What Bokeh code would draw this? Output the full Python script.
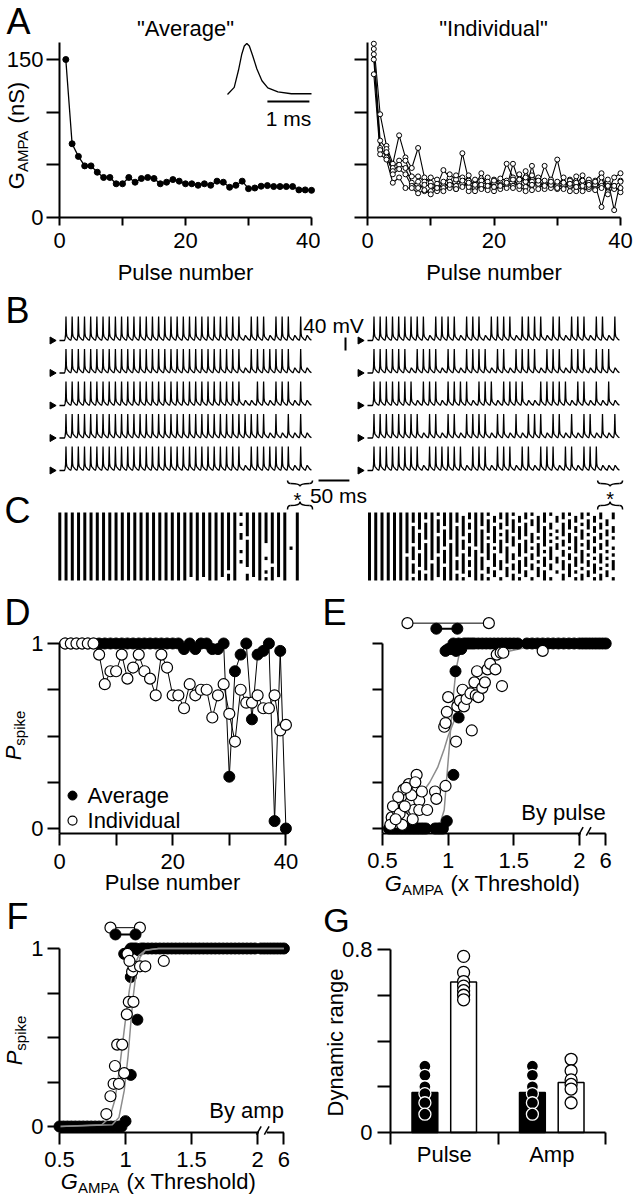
import numpy as np
from bokeh.plotting import figure
from bokeh.layouts import column, row
from bokeh.models import Range1d, FixedTicker, Label
from bokeh.core.properties import value
from bokeh.embed import file_html
from bokeh.resources import INLINE

FONT = "Liberation Sans"

# ---------------- data ----------------
PULSE = list(range(1, 41))

A_AVG = [150, 70, 58, 49, 49, 43, 38, 38, 32, 32,
         38, 33.5, 37, 38, 37, 32, 33.5, 36, 34.5, 32,
         32, 30.6, 32, 30.6, 34.5, 33.5, 28.7, 30.6, 34.5, 27.4,
         28, 29.7, 30.3, 29.4, 29.4, 29.4, 29.4, 26.2, 26.2, 25.8]
A_IND_1 = [165, 98, 68, 51, 78, 57, 47, 66, 38, 33,
           30, 45, 38, 27, 61, 35, 30, 42, 28, 36,
           33, 51, 38, 27, 44, 34, 30, 49, 35, 55,
           29, 36, 31, 40, 27, 35, 42, 24, 38, 42]
A_IND_2 = [160, 73, 65, 47, 54, 54, 39, 39, 34, 38,
           36, 30, 41, 36, 32, 40, 28, 35, 38, 25,
           31, 28, 51, 33, 29, 40, 32, 27, 36, 30,
           38, 25, 33, 29, 36, 31, 10, 33, 30, 24]
A_IND_3 = [155, 66, 57, 44, 50, 47, 33, 28, 31, 30,
           25, 34, 28, 40, 38, 25, 36, 30, 26, 33,
           37, 35, 30, 41, 34, 26, 38, 33, 28, 34,
           31, 35, 25, 30, 33, 27, 30, 36, 7, 35]
A_IND_4 = [150, 64, 62, 41, 46, 41, 30, 34, 25, 25,
           32, 28, 34, 30, 35, 29, 25, 31, 34, 29,
           27, 32, 36, 30, 25, 49, 27, 35, 31, 27,
           33, 30, 39, 25, 29, 34, 28, 30, 27, 28]
A_IND_5 = [136, 60, 55, 33, 38, 28, 28, 23, 26, 22,
           28, 25, 31, 27, 29, 33, 31, 27, 30, 35,
           30, 33, 28, 36, 38, 31, 35, 30, 34, 28,
           27, 32, 29, 35, 31, 26, 38, 22, 30, 34]
A_IND = [A_IND_1, A_IND_2, A_IND_3, A_IND_4, A_IND_5]

INSET_T_MS = [0.0, 0.16, 0.26, 0.34, 0.40, 0.46, 0.52, 0.60, 0.70, 0.82, 0.96, 1.20, 1.52, 2.0]
INSET_G = [0.0, 0.14, 0.47, 0.79, 0.95, 1.0, 0.95, 0.76, 0.50, 0.27, 0.13, 0.05, 0.015, 0.015]

B_AVG_SPIKES = ["1111111111111111111111111111101110111010",
                "1111111111111111111111111111101111111010",
                "1111111111111111111111111111100110111010",
                "1111111111111111111111111111111110101010",
                "1111111111111111111111111111101111111010"]
B_IND_SPIKES = ["1111111110111101110111101111011011101101",
                "1111110111101101111011011110111011101110",
                "1111111011101111011101111001111101101010",
                "1111111101101101111011010111011010110101",
                "1111111101111110111011101101110110111000"]

N_TRIALS = 20
C_AVG_FAILS = [[], [], [], [], [], [], [], [], [], [],
               [], [], [], [], [], [], [], [], [], [],
               [], [19], [], [19], [], [], [19], [17], [],
               [1, 2, 4, 5, 8, 9, 10, 12, 13, 15, 16, 17, 18, 19],
               [7, 16, 17], [19], [], [9, 10, 11, 12, 14, 15, 16, 18], [15], [19], [],
               [0, 1, 2, 3, 4, 5, 6, 7, 8, 9, 11, 12, 13, 14, 15, 16, 17, 18, 19],
               [],
               [0, 1, 2, 3, 4, 5, 6, 7, 8, 9, 10, 11, 12, 13, 14, 15, 16, 17, 18, 19]]
C_IND_FAILS = [[], [], [], [], [], [], [12], [3, 9, 14, 18], [5, 11, 16], [2, 8, 17],
               [14], [1, 6, 12, 19], [4, 10, 15], [8], [3, 13, 17], [0, 7, 11, 18],
               [2, 5, 9, 13, 16, 19], [10], [4, 12, 17], [1, 6, 8, 14, 15, 18],
               [0, 3, 9, 11, 16, 19], [2, 5, 7, 12, 13, 17, 18], [4, 9, 15, 19],
               [1, 6, 10, 11, 14, 17], [0, 3, 8, 13, 18], [2, 7, 12, 16, 19],
               [1, 4, 5, 9, 11, 14, 17, 18], [0, 6, 8, 13, 15, 19], [3, 10, 12, 16],
               [1, 2, 5, 7, 9, 14, 17, 18], [0, 3, 4, 6, 8, 11, 12, 15, 16, 18, 19],
               [2, 7, 10, 13, 17], [1, 5, 9, 11, 14, 19], [0, 3, 6, 12, 16, 18],
               [2, 4, 8, 10, 15, 17], [1, 5, 7, 11, 13, 16, 19], [0, 3, 6, 9, 12, 14, 18],
               [2, 5, 8, 11, 15, 17], [0, 1, 4, 7, 10, 12, 14, 16, 19],
               [2, 3, 6, 8, 9, 11, 13, 17, 18]]

D_AVG = [1, 1, 1, 1, 1, 1, 1, 1, 1, 1,
         1, 1, 1, 1, 1, 1, 1, 1, 1, 1,
         1, 0.97, 1, 0.97, 1, 1, 0.97, 0.97, 1, 0.28,
         0.85, 0.94, 1, 0.59, 0.94, 0.96, 1, 0.04, 0.96, 0.0]
D_IND = [1, 1, 1, 1, 1, 1, 0.94, 0.78, 0.85, 0.85,
         0.94, 0.81, 0.87, 0.94, 0.85, 0.81, 0.72, 0.94, 0.87, 0.72,
         0.72, 0.65, 0.78, 0.72, 0.75, 0.75, 0.60, 0.72, 0.78, 0.62,
         0.47, 0.75, 0.68, 0.68, 0.72, 0.65, 0.65, 0.72, 0.53, 0.56]

E_AVG_G = [0.55, 0.57, 0.59, 0.61, 0.63, 0.65, 0.67, 0.69, 0.71, 0.73,
           0.75, 0.77, 0.79, 0.81, 0.83, 0.90, 0.92, 0.94, 0.96, 0.99,
           1.04, 1.08, 1.056, 0.98, 1.00,
           1.02, 1.04, 1.06, 1.08, 1.10, 1.12, 1.14, 1.16, 1.18, 1.20,
           1.23, 1.26, 1.29, 1.32, 1.35, 1.38, 1.41, 1.44, 1.47, 1.50,
           1.53, 1.60, 1.64, 1.68, 1.72, 1.76, 1.80, 1.84, 1.88, 1.92,
           1.96, 2.0, 2.5, 3.0, 3.5, 4.0, 4.5, 5.0, 5.5, 6.0]
E_AVG_P = [0, 0, 0, 0, 0, 0, 0, 0, 0, 0,
           0, 0, 0, 0, 0, 0, 0, 0, 0, 0.04,
           0.29, 0.60, 0.85, 0.96, 0.97,
           0.97, 1, 0.96, 1, 0.97, 1, 1, 1, 1, 1,
           1, 1, 1, 1, 1, 1, 1, 1, 1, 1,
           1, 1, 1, 1, 1, 1, 1, 1, 1, 1,
           1, 1, 1, 1, 1, 1, 1, 1, 1, 1]
E_IND_G = [0.57, 0.61, 0.64, 0.60, 0.66, 0.69, 0.71, 0.74, 0.76, 0.78,
           0.80, 0.74, 0.65, 0.56, 0.70, 0.66, 0.62, 0.78, 0.84, 0.90,
           0.91, 0.98, 0.58, 0.63, 0.67, 0.72, 0.68, 0.75, 0.73, 0.60,
           0.97, 0.98, 0.99, 1.00, 1.06, 1.07, 1.09, 1.11, 1.12, 1.14,
           1.17, 1.18, 1.20, 1.21, 1.22, 1.23, 1.26, 1.28, 1.30, 1.32,
           1.36, 1.37, 1.40, 1.41, 1.42, 1.72]
E_IND_P = [0.06, 0.10, 0.14, 0.03, 0.06, 0.17, 0.14, 0.20, 0.29, 0.15,
           0.20, 0.10, 0.02, 0.02, 0.24, 0.21, 0.17, 0.10, 0.10, 0.20,
           0.16, 0.23, 0.12, 0.08, 0.12, 0.18, 0.22, 0.25, 0.05, 0.05,
           0.55, 0.57, 0.63, 0.71, 0.47, 0.66, 0.69, 0.75, 0.66, 0.70,
           0.73, 0.53, 0.79, 0.72, 0.85, 0.71, 0.76, 0.79, 0.86, 0.89,
           0.86, 0.94, 0.95, 0.77, 0.95, 0.96]
E_FIT_AVG_G = [0.5, 0.85, 0.94, 0.97, 0.99, 1.01, 1.02, 1.04, 1.06, 1.09, 1.13, 1.22, 6.0]
E_FIT_AVG_P = [0.0, 0.01, 0.03, 0.10, 0.28, 0.45, 0.55, 0.72, 0.86, 0.96, 0.99, 1.0, 1.0]
E_FIT_IND_G = [0.5, 0.6, 0.7, 0.79, 0.86, 0.92, 0.97, 1.0, 1.05, 1.09, 1.15, 1.22, 1.3, 1.35, 1.42, 1.47, 1.6, 1.8, 6.0]
E_FIT_IND_P = [0.0, 0.03, 0.09, 0.18, 0.25, 0.33, 0.43, 0.5, 0.59, 0.66, 0.75, 0.82, 0.88, 0.91, 0.94, 0.96, 0.98, 0.99, 1.0]
E_RANGE_AVG = [0.91, 1.07]
E_RANGE_IND = [0.69, 1.31]
E_RANGE_Y = [1.08, 1.11]

F_AVG_G = [0.50, 0.53, 0.56, 0.59, 0.62, 0.65, 0.68, 0.71, 0.74, 0.77,
           0.80, 0.83, 0.86, 0.89, 0.92, 0.95, 0.97, 1.00,
           1.04, 1.09, 1.04, 0.99, 1.02,
           1.04, 1.06, 1.08, 1.10, 1.12, 1.14, 1.17, 1.20, 1.23, 1.26,
           1.29, 1.32, 1.35, 1.38, 1.41, 1.44, 1.47, 1.50, 1.53, 1.56,
           1.59, 1.62, 1.65, 1.68, 1.71, 1.74, 1.77, 1.80, 1.83, 1.86,
           1.89, 1.92, 1.95, 1.98, 2.5, 3.0, 3.5, 4.0, 4.5, 5.0, 5.5, 6.0]
F_AVG_P = [0, 0, 0, 0, 0, 0, 0, 0, 0, 0,
           0, 0, 0, 0, 0, 0, 0, 0.03,
           0.29, 0.60, 0.84, 0.97, 0.98,
           1, 1, 1, 0.99, 1, 1, 1, 1, 1, 1,
           1, 1, 1, 1, 1, 1, 1, 1, 1, 1,
           1, 1, 1, 1, 1, 1, 1, 1, 1, 1,
           1, 1, 1, 1, 1, 1, 1, 1, 1, 1, 1, 1]
F_IND_G = [0.855, 0.886, 0.91, 0.95, 0.92, 0.99, 0.937, 0.975, 1.01, 1.025,
           1.06, 1.05, 1.06, 1.11, 1.15, 1.29, 1.015, 1.03]
F_IND_P = [0.07, 0.17, 0.24, 0.24, 0.34, 0.30, 0.46, 0.46, 0.63, 0.70,
           0.70, 0.87, 0.90, 0.90, 0.90, 0.93, 0.97, 0.93]
F_FIT_IND_G = [0.5, 0.82, 0.88, 0.92, 0.95, 0.98, 1.0, 1.03, 1.06, 1.1, 1.15, 1.25, 6.0]
F_FIT_IND_P = [0.0, 0.01, 0.05, 0.15, 0.30, 0.48, 0.60, 0.77, 0.89, 0.96, 0.99, 1.0, 1.0]
F_FIT_AVG_G = [0.5, 0.9, 0.95, 0.99, 1.02, 1.04, 1.06, 1.08, 1.11, 1.15, 1.25, 6.0]
F_FIT_AVG_P = [0.0, 0.01, 0.05, 0.20, 0.40, 0.58, 0.74, 0.86, 0.95, 0.99, 1.0, 1.0]
F_RANGE_AVG = [0.924, 1.076]
F_RANGE_IND = [0.886, 1.109]
F_RANGE_Y = [1.079, 1.117]

G_GROUPS = ["Pulse", "Amp"]
G_BAR_AVG = [0.175, 0.175]
G_BAR_IND = [0.658, 0.219]
G_SEM_AVG = [0.03, 0.03]
G_SEM_IND = [0.012, 0.02]
G_PTS_AVG = [[0.29, 0.25, 0.20, 0.17, 0.13, 0.08],
             [0.29, 0.25, 0.20, 0.17, 0.13, 0.08]]
G_PTS_IND = [[0.77, 0.70, 0.66, 0.64, 0.62, 0.60, 0.58],
             [0.32, 0.27, 0.23, 0.21, 0.19, 0.13]]

# ---------------- helpers ----------------
AW = {'a': .556, 'b': .556, 'c': .5, 'd': .556, 'e': .556, 'g': .556, 'h': .556, 'i': .222,
      'k': .5, 'l': .222, 'm': .833, 'n': .556, 'o': .556, 'p': .556, 'r': .333, 's': .5,
      'x': .5, 'y': .5, 'A': .667, 'D': .722, 'G': .778, 'M': .833, 'P': .667, 'S': .667,
      'T': .611, ' ': .278, '(': .333, ')': .333}


def tw(s, size):
    return sum(AW.get(c, 0.556) for c in s) * size


def lab(p, x, y, text, size=22, style="normal", align="center", angle=0.0):
    p.add_layout(Label(x=x, y=y, x_units="canvas", y_units="canvas", text=text,
                       angle=angle, text_font=FONT, text_font_size=f"{size}px",
                       text_font_style=style, text_align=align, text_baseline="middle",
                       text_color="black"))


def letter(p, x, cy, text, size=36):
    lab(p, x, cy, text, size, "normal", "center")


def rich(p, pieces, x, y, vertical=False):
    # pieces: (text, size, style, shift of the piece's middle line in px, + = downwards)
    total = sum(tw(t, s) for t, s, _, _ in pieces)
    pos = -total / 2.0
    for t, s, st, sh in pieces:
        lead = len(t) - len(t.lstrip(" "))
        pos += tw(" " * lead, s)
        body = t.strip(" ")
        if vertical:
            lab(p, x + sh, y - pos, body, s, st, "left", np.pi / 2)
        else:
            lab(p, x + pos, y + sh, body, s, st, "left")
        pos += tw(body, s)


def xr(px0, v0, s, X0, W):
    # data value v0 sits at page pixel px0, s pixels per unit; canvas spans X0..X0+W
    return Range1d(v0 + (X0 - px0) / s, v0 + (X0 + W - px0) / s)


def yr(py0, v0, s, Y0, H):
    return Range1d(v0 - (Y0 + H - py0) / s, v0 + (py0 - Y0) / s)


def mkfig(w, h, xrange, yrange, axes=True):
    kw = {} if axes else dict(x_axis_location=None, y_axis_location=None)
    p = figure(width=w, height=h, x_range=xrange, y_range=yrange, output_backend="svg",
               toolbar_location=None, min_border=0, **kw)
    p.outline_line_color = None
    p.xgrid.visible = False
    p.ygrid.visible = False
    p.background_fill_color = "white"
    p.border_fill_color = "white"
    return p


def ax_style(ax, ticks, labels, loc, bounds, out=12, inn=0, standoff=6, minor=None):
    ax.fixed_location = loc
    ax.bounds = bounds
    ax.ticker = FixedTicker(ticks=ticks, minor_ticks=minor or [])
    ov = {}
    for t, l in zip(ticks, labels):
        ov[t] = l
        ov[format(t, "g")] = l
    ax.major_label_overrides = ov
    ax.axis_line_width = 2
    ax.axis_line_color = "black"
    ax.major_tick_line_width = 2
    ax.major_tick_line_color = "black"
    ax.major_tick_out = out
    ax.major_tick_in = inn
    ax.minor_tick_line_color = None
    ax.major_label_text_font = FONT
    ax.major_label_text_font_size = "22px"
    ax.major_label_text_color = "black"
    ax.major_label_standoff = standoff
    ax.axis_label_text_font = FONT
    ax.axis_label_text_font_size = "22px"
    ax.axis_label_text_font_style = "normal"
    ax.axis_label_text_color = "black"


def brk(v):
    return v if v <= 2 else 2 + (v - 2) * 0.05


GAMPA_X = [("G", 22, "italic", 0), ("AMPA", 15, "normal", 6), (" (x Threshold)", 22, "normal", 0)]
PSPIKE = [("P", 22, "italic", 0), ("spike", 15, "normal", 6)]

# ---------------- A ----------------
fa1 = mkfig(320, 290, xr(59, 0, 6.30, 0, 320), yr(217, 0, 1.0533, 0, 290))
ax_style(fa1.xaxis[0], [0, 10, 20, 30, 40], ["0", "", "20", "", "40"], 0, (0, 40), out=8, standoff=7)
fa1.xaxis[0].axis_label = "Pulse number"
fa1.xaxis[0].axis_label_standoff = 9
ax_style(fa1.yaxis[0], [0, 50, 100, 150], ["0", "", "", "150"], 0, (0, 166), out=13, standoff=3)
fa1.line(PULSE, A_AVG, color="black", line_width=1.3)
fa1.scatter(PULSE, A_AVG, size=6, color="black")
fa1.extra_x_ranges = {"ms": xr(227, 0, 42, 0, 320)}
fa1.extra_y_ranges = {"g": yr(94, 0, 51, 0, 290)}
fa1.line(INSET_T_MS, INSET_G, x_range_name="ms", y_range_name="g", color="black", line_width=1.3)
fa1.segment(x0=[0.95], y0=[-0.137], x1=[1.95], y1=[-0.137], x_range_name="ms", y_range_name="g",
            color="black", line_width=2.2)
fa1.text(x=[1.45], y=[-0.47], text=["1 ms"], x_range_name="ms", y_range_name="g",
         text_font=value(FONT), text_font_size="21px", text_align="center", text_baseline="middle")
letter(fa1, 18, 21, "A")
lab(fa1, 185, 28, "\"Average\"", 22)
rich(fa1, [("G", 22, "normal", 0), ("AMPA", 15, "normal", 6), (" (nS)", 22, "normal", 0)],
     16, 135, vertical=True)

fa2 = mkfig(313, 290, xr(367, 0, 6.325, 320, 313), yr(217, 0, 1.0533, 0, 290))
ax_style(fa2.xaxis[0], [0, 10, 20, 30, 40], ["0", "", "20", "", "40"], 0, (0, 40), out=8, standoff=7)
fa2.xaxis[0].axis_label = "Pulse number"
fa2.xaxis[0].axis_label_standoff = 9
ax_style(fa2.yaxis[0], [0, 50, 100, 150], ["", "", "", ""], 0, (0, 166), out=13, standoff=3)
for s in A_IND:
    fa2.line(PULSE, s, color="black", line_width=1.1)
for s in A_IND:
    fa2.scatter(PULSE, s, size=5, fill_color="white", line_color="black", line_width=1)
lab(fa2, 173, 28, "\"Individual\"", 22)

# ---------------- B + C ----------------
fbc = mkfig(633, 302, xr(59, -8, 0.6176, 0, 633), yr(340, 0, 0.325, 290, 302), axes=False)
fbc.extra_x_ranges = {"msr": xr(367, -8, 0.6176, 0, 633), "pl": xr(59.3, 1, 6.25, 0, 633),
                      "pr": xr(369, 1, 6.25, 0, 633)}
fbc.extra_y_ranges = {"tr": yr(580, 0, 3.4, 290, 302)}

SPIKE_T = [0.0, 1.0, 1.8, 2.5, 3.2, 4.0, 5.5, 7.5, 9.9]
SPIKE_V = [0.0, 5.0, 18.0, 74.0, 22.0, 12.0, 9.0, 4.0, 1.0]
FAIL_T = [0.0, 1.5, 3.0, 4.5, 7.0, 9.9]
FAIL_V = [0.0, 8.0, 16.0, 12.0, 5.0, 1.0]
ROW_GAP = 100.0


def trace(pattern, base):
    xs, ys = [-8.0], [base]
    for k, c in enumerate(pattern):
        t0 = 10.0 * k
        T, V = (SPIKE_T, SPIKE_V) if c == "1" else (FAIL_T, FAIL_V)
        for dt, v in zip(T, V):
            xs.append(t0 + dt)
            ys.append(base + v)
    return xs, ys


for pats, xrn in ((B_AVG_SPIKES, "default"), (B_IND_SPIKES, "msr")):
    XS, YS = [], []
    for i, pat in enumerate(pats):
        xs, ys = trace(pat, -ROW_GAP * i)
        XS.append(xs)
        YS.append(ys)
    fbc.multi_line(XS, YS, x_range_name=xrn, color="black", line_width=1.3)
    fbc.scatter(x=[-20.0] * len(pats), y=[-ROW_GAP * i for i in range(len(pats))], x_range_name=xrn,
                marker="triangle", angle=-np.pi / 2, size=7, color="black")

# scale bars
fbc.segment(x0=[-43.6], y0=[9.2], x1=[-43.6], y1=[-30.8], x_range_name="msr", color="black", line_width=2)
fbc.text(x=[-63.0], y=[46.2], text=["40 mV"], x_range_name="msr", text_font=value(FONT),
         text_font_size="21px", text_align="center", text_baseline="middle")
fbc.segment(x0=[-87.3], y0=[-430.8], x1=[-37.3], y1=[-430.8], x_range_name="msr", color="black", line_width=2)
fbc.text(x=[-55.0], y=[-476.9], text=["50 ms"], x_range_name="msr", text_font=value(FONT),
         text_font_size="21px", text_align="center", text_baseline="middle")


def brace(p, a, b, y0, h, xrn):
    m = (a + b) / 2.0
    d = (b - a) * 0.12
    p.quadratic(x0=[a, a + d, m, b - d], y0=[y0, y0 - h / 2, y0 - h, y0 - h / 2],
                x1=[a + d, m, b - d, b], y1=[y0 - h / 2, y0 - h, y0 - h / 2, y0],
                cx=[a, m, m, b], cy=[y0 - h / 2, y0 - h / 2, y0 - h / 2, y0 - h / 2],
                x_range_name=xrn, line_color="black", line_width=1.5)


brace(fbc, 361.2, 401.7, -430.8, 18.0, "default")
brace(fbc, 361.2, 401.7, -520.0, -24.0, "default")
brace(fbc, 364.6, 405.0, -430.8, 18.0, "msr")
brace(fbc, 364.6, 405.0, -520.0, -24.0, "msr")
fbc.text(x=[377.0], y=[-492.0], text=["*"], text_font=value(FONT), text_font_size="20px",
         text_align="center", text_baseline="middle")
fbc.text(x=[385.0], y=[-489.0], text=["*"], x_range_name="msr", text_font=value(FONT),
         text_font_size="20px", text_align="center", text_baseline="middle")


def runs(fails_per_pulse):
    L, R, B, T = [], [], [], []
    for k, fails in enumerate(fails_per_pulse):
        x = k + 1
        fs = set(fails)
        i = 0
        while i < N_TRIALS:
            if i in fs:
                i += 1
                continue
            j = i
            while j + 1 < N_TRIALS and (j + 1) not in fs:
                j += 1
            L.append(x - 0.24)
            R.append(x + 0.24)
            T.append(N_TRIALS - i)
            B.append(N_TRIALS - j - 1)
            i = j + 1
    return L, R, B, T


for fails, xrn in ((C_AVG_FAILS, "pl"), (C_IND_FAILS, "pr")):
    L, R, B, T = runs(fails)
    fbc.quad(left=L, right=R, bottom=B, top=T, x_range_name=xrn, y_range_name="tr",
             fill_color="black", line_color=None)

letter(fbc, 17, 20, "B")
letter(fbc, 17, 220, "C")

# ---------------- D ----------------
YL_D = -0.027
fd = mkfig(320, 304, xr(59, 0, 5.66, 0, 320), yr(828, 0, 185, 592, 304))
ax_style(fd.xaxis[0], [0, 10, 20, 30, 40], ["0", "", "20", "", "40"], YL_D, (0, 40), out=12, standoff=9)
ax_style(fd.yaxis[0], [0, 0.25, 0.5, 0.75, 1], ["0", "", "", "", "1"], 0, (YL_D, 1), out=12, standoff=4)
fd.line(PULSE, D_AVG, color="black", line_width=1)
fd.scatter(PULSE, D_AVG, size=11, color="black")
fd.line(PULSE, D_IND, color="black", line_width=1)
fd.scatter(PULSE, D_IND, size=11, fill_color="white", line_color="black", line_width=1.2)
fd.scatter([2.3], [0.178], size=9, color="black")
fd.scatter([2.3], [0.043], size=9, fill_color="white", line_color="black", line_width=1.2)
fd.text(x=[4.95, 4.95], y=[0.178, 0.043], text=["Average", "Individual"], text_font=value(FONT),
        text_font_size="22px", text_align="left", text_baseline="middle")
lab(fd, 172, 290, "Pulse number", 22)
letter(fd, 17, 20, "D")
rich(fd, PSPIKE, 13, 143, vertical=True)

# ---------------- E ----------------
YL_E = -0.027
fe = mkfig(313, 307, xr(382, 0.5, 131.3, 320, 313), yr(828, 0, 185, 592, 307))
ax_style(fe.xaxis[0], [0.5, 1, 1.5, 2, 2.2], ["0.5", "1", "1.5", "2", "6"], YL_E, (0.5, 2.2),
         out=12, standoff=8)
fe.xaxis[0].axis_line_color = None
ax_style(fe.yaxis[0], [0, 0.25, 0.5, 0.75, 1], ["", "", "", "", ""], 0.5, (YL_E, 1), out=10, standoff=4)
fe.segment(x0=[0.5, 2.07], y0=[YL_E, YL_E], x1=[2.01, 2.2], y1=[YL_E, YL_E], color="black", line_width=2)
fe.segment(x0=[1.992, 2.052], y0=[YL_E - 0.012] * 2, x1=[2.028, 2.088], y1=[YL_E + 0.035] * 2,
           color="black", line_width=1.5)
fe.line([brk(v) for v in E_FIT_AVG_G], E_FIT_AVG_P, color="#8c8c8c", line_width=1.5)
fe.line([brk(v) for v in E_FIT_IND_G], E_FIT_IND_P, color="#8c8c8c", line_width=1.5)
fe.scatter([brk(v) for v in E_AVG_G], E_AVG_P, size=11, color="black")
fe.scatter([brk(v) for v in E_IND_G], E_IND_P, size=11, fill_color="white", line_color="black",
           line_width=1.2)
fe.line(E_RANGE_IND, [E_RANGE_Y[1]] * 2, color="black", line_width=1)
fe.scatter(E_RANGE_IND, [E_RANGE_Y[1]] * 2, size=11, fill_color="white", line_color="black", line_width=1.2)
fe.line(E_RANGE_AVG, [E_RANGE_Y[0]] * 2, color="black", line_width=2)
fe.scatter(E_RANGE_AVG, [E_RANGE_Y[0]] * 2, size=11, color="black")
fe.text(x=[2.2], y=[0.086], text=["By pulse"], text_font=value(FONT), text_font_size="22px",
        text_align="right", text_baseline="middle")
letter(fe, 14, 20, "E")
rich(fe, GAMPA_X, 162, 291)

# ---------------- F ----------------
YL_F = -0.0337
ff = mkfig(320, 303, xr(59, 0.5, 132, 0, 320), yr(1126, 0, 178, 896, 303))
ax_style(ff.xaxis[0], [0.5, 1, 1.5, 2, 2.2], ["0.5", "1", "1.5", "2", "6"], YL_F, (0.5, 2.2),
         out=12, standoff=8)
ff.xaxis[0].axis_line_color = None
ax_style(ff.yaxis[0], [0, 0.25, 0.5, 0.75, 1], ["0", "", "", "", "1"], 0.5, (YL_F, 1), out=12, standoff=4)
ff.segment(x0=[0.5, 2.07], y0=[YL_F, YL_F], x1=[2.01, 2.2], y1=[YL_F, YL_F], color="black", line_width=2)
ff.segment(x0=[1.992, 2.052], y0=[YL_F - 0.012] * 2, x1=[2.028, 2.088], y1=[YL_F + 0.035] * 2,
           color="black", line_width=1.5)
ff.scatter([brk(v) for v in F_AVG_G], F_AVG_P, size=11, color="black")
ff.line([brk(v) for v in F_FIT_AVG_G], F_FIT_AVG_P, color="#8c8c8c", line_width=1.5)
ff.line([brk(v) for v in F_FIT_IND_G], F_FIT_IND_P, color="#8c8c8c", line_width=1.5)
ff.scatter([brk(v) for v in F_IND_G], F_IND_P, size=11, fill_color="white", line_color="black",
           line_width=1.2)
ff.line(F_RANGE_IND, [F_RANGE_Y[1]] * 2, color="black", line_width=1)
ff.scatter(F_RANGE_IND, [F_RANGE_Y[1]] * 2, size=11, fill_color="white", line_color="black", line_width=1.2)
ff.line(F_RANGE_AVG, [F_RANGE_Y[0]] * 2, color="black", line_width=2)
ff.scatter(F_RANGE_AVG, [F_RANGE_Y[0]] * 2, size=11, color="black")
ff.text(x=[2.2], y=[0.09], text=["By amp"], text_font=value(FONT), text_font_size="22px",
        text_align="right", text_baseline="middle")
letter(ff, 17, 20, "F")
rich(ff, PSPIKE, 14, 144, vertical=True)
rich(ff, GAMPA_X, 158, 285)

# ---------------- G ----------------
fg = mkfig(313, 300, xr(390, 0, 107.5, 320, 313), yr(1132, 0, 228.75, 899, 300))
ax_style(fg.xaxis[0], [0.5, 1.5], G_GROUPS, 0, (0, 2), out=0, standoff=-3, minor=[0, 1, 2])
fg.xaxis[0].minor_tick_line_color = "black"
fg.xaxis[0].minor_tick_line_width = 2
fg.xaxis[0].minor_tick_out = 12
fg.xaxis[0].minor_tick_in = 0
ax_style(fg.yaxis[0], [0, 0.2, 0.4, 0.6, 0.8], ["0", "", "", "", "0.8"], 0, (0, 0.8), out=13, standoff=5)
xa_avg = [gi + 0.5 - 0.18 for gi in range(len(G_GROUPS))]
xa_ind = [gi + 0.5 + 0.18 for gi in range(len(G_GROUPS))]
fg.vbar(x=xa_avg, top=G_BAR_AVG, width=0.24, fill_color="black", line_color="black", line_width=1.5)
fg.vbar(x=xa_ind, top=G_BAR_IND, width=0.24, fill_color="white", line_color="black", line_width=1.5)
for xs_, tops, sems in ((xa_avg, G_BAR_AVG, G_SEM_AVG), (xa_ind, G_BAR_IND, G_SEM_IND)):
    fg.segment(x0=xs_, y0=tops, x1=xs_, y1=[t + s for t, s in zip(tops, sems)], color="black", line_width=1.3)
    fg.segment(x0=[x - 0.035 for x in xs_], y0=[t + s for t, s in zip(tops, sems)],
               x1=[x + 0.035 for x in xs_], y1=[t + s for t, s in zip(tops, sems)],
               color="black", line_width=1.3)
for gi in range(len(G_GROUPS)):
    fg.scatter([xa_avg[gi]] * len(G_PTS_AVG[gi]), G_PTS_AVG[gi], size=12, fill_color="black",
               line_color="white", line_width=1.3)
    fg.scatter([xa_ind[gi]] * len(G_PTS_IND[gi]), G_PTS_IND[gi], size=12, fill_color="white",
               line_color="black", line_width=1.3)
letter(fg, 16, 20, "G", 34)
rich(fg, [("Dynamic range", 22, "normal", 0)], 15, 143, vertical=True)

layout = column(row(fa1, fa2), fbc, row(column(fd, ff), column(fe, fg)))
open("out.html", "w").write(file_html(layout, INLINE, "figure"))
